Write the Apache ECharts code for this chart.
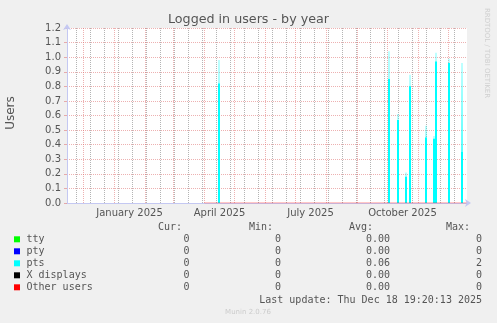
<!DOCTYPE html>
<html><head><meta charset="utf-8">
<script src="https://cdn.jsdelivr.net/npm/echarts@6/dist/echarts.min.js"></script>
<style>html,body{margin:0;padding:0;background:#f0f0f0;}#c{width:497px;height:323px;}</style>
</head><body><div id="c"></div>
<script>
// ---- data ----
const chartTitle = 'Logged in users - by year';
const yAxisName = 'Users';
const yTickValues = [0, 0.1, 0.2, 0.3, 0.4, 0.5, 0.6, 0.7, 0.8, 0.9, 1.0, 1.1, 1.2];
const seriesNames = ['tty', 'pty', 'pts', 'X displays', 'Other users'];
const seriesColors = ['#00ff00', '#0000ff', '#00ffff', '#000000', '#ff0000'];
const curVals = ['0', '0', '0', '0', '0'];
const minVals = ['0', '0', '0', '0', '0'];
const avgVals = ['0.00', '0.00', '0.06', '0.00', '0.00'];
const maxVals = ['0', '0', '2', '0', '0'];
const statHeaders = ['Cur:', 'Min:', 'Avg:', 'Max:'];
const lastUpdate = 'Last update: Thu Dec 18 19:20:13 2025';
const muninVersion = 'Munin 2.0.76';
const rrdCredit = 'RRDTOOL / TOBI OETIKER';

// pts (daily) spikes: peak (faded top) and solid level
const ptsDates = ['2025-04-15', '2025-10-02', '2025-10-11', '2025-10-19', '2025-10-23', '2025-11-08', '2025-11-16', '2025-11-18', '2025-12-01', '2025-12-14'];
const ptsPeak  = [0.98, 1.04, 0.61, 0.21, 0.88, 0.53, 0.46, 1.03, 0.99, 0.96];
const ptsLevel = [0.82, 0.85, 0.57, 0.18, 0.80, 0.45, 0.44, 0.97, 0.96, 0.35];

// "Other users" (and the other zero series) known from April 2025
const zeroDates = ['2025-04-01', '2025-12-19'];
const zeroVals = [0, 0];

const xLabelDates = ['2025-01-16', '2025-04-16', '2025-07-16', '2025-10-16'];
const xLabels = ['January 2025', 'April 2025', 'July 2025', 'October 2025'];

const axisStart = '2024-11-14T12:00:00Z';
const axisEnd = '2025-12-19T12:00:00Z';
const firstBiweekly = '2024-11-24';

// ---- helpers ----
const ts = s => Date.parse(s.length === 10 ? s + 'T00:00:00Z' : s);
const noon = s => ts(s) + 43200000;
const tMin = ts(axisStart), tMax = ts(axisEnd);
const DAY = 86400000;

const monthLines = [];
for (let y = 2024, m = 11; ; ) {
  const t = Date.UTC(y, m, 1);
  if (t > tMax) break;
  if (t >= tMin) monthLines.push(t);
  m++; if (m > 11) { m = 0; y++; }
}
const weekLines = [];
for (let t = ts(firstBiweekly); t <= tMax; t += 14 * DAY) weekLines.push(t);

const labelMap = {};
xLabelDates.forEach((d, i) => { labelMap[ts(d)] = xLabels[i]; });

const textCol = '#555555';
const mono = '10px "DejaVu Sans Mono"';
const graphics = [];
graphics.push({ type: 'text', x: 248.5, y: 19.5, style: { text: chartTitle, font: '12.7px "DejaVu Sans"', fill: textCol, align: 'center', verticalAlign: 'middle' } });
graphics.push({ type: 'text', x: 11, y: 113, rotation: Math.PI / 2, style: { text: yAxisName, font: '12px "DejaVu Sans"', fill: textCol, align: 'center', verticalAlign: 'middle' } });
graphics.push({ type: 'text', x: 487, y: 53, rotation: -Math.PI / 2, style: { text: rrdCredit, font: '7px "DejaVu Sans"', fill: '#cfcfcf', align: 'center', verticalAlign: 'middle' } });
const headerRight = [182, 273, 373, 470];
statHeaders.forEach((h, i) => graphics.push({ type: 'text', x: headerRight[i], y: 227, style: { text: h, font: mono, fill: textCol, align: 'right', verticalAlign: 'middle' } }));
const colRight = [189.5, 281, 390, 482];
seriesNames.forEach((name, i) => {
  const y = 239.3 + i * 12;
  graphics.push({ type: 'rect', shape: { x: 14, y: y - 3, width: 6, height: 6 }, style: { fill: seriesColors[i] } });
  graphics.push({ type: 'text', x: 26.5, y: y, style: { text: name, font: mono, fill: textCol, align: 'left', verticalAlign: 'middle' } });
  [curVals[i], minVals[i], avgVals[i], maxVals[i]].forEach((v, j) => graphics.push({ type: 'text', x: colRight[j], y: y, style: { text: v, font: mono, fill: textCol, align: 'right', verticalAlign: 'middle' } }));
});
graphics.push({ type: 'text', x: 482, y: 300, style: { text: lastUpdate, font: mono, fill: textCol, align: 'right', verticalAlign: 'middle' } });
graphics.push({ type: 'text', x: 248, y: 312.5, style: { text: muninVersion, font: '7px "DejaVu Sans"', fill: '#cccccc', align: 'center', verticalAlign: 'middle' } });

const majorCol = 'rgba(220,100,100,0.5)';
const minorCol = '#b4b4b4';
const axisCol = '#c4c8f2';

const chart = echarts.init(document.getElementById('c'), null, { renderer: 'canvas' });
chart.setOption({
  animation: false,
  backgroundColor: '#f0f0f0',
  grid: { left: 67, right: 30, top: 28, bottom: 120, show: true, backgroundColor: '#ffffff', borderWidth: 0, z: 0 },
  xAxis: {
    type: 'value', min: tMin, max: tMax, scale: true,
    axisLine: { show: true, lineStyle: { color: axisCol, width: 1 }, symbol: ['none', 'arrow'], symbolSize: [6, 6], symbolOffset: [0, 4] },
    axisTick: { show: false },
    splitLine: { show: false },
    axisLabel: {
      customValues: xLabelDates.map(ts),
      interval: 0,
      formatter: v => labelMap[v] || '',
      color: textCol, fontFamily: 'DejaVu Sans', fontSize: 10, margin: 5, hideOverlap: false
    }
  },
  yAxis: {
    type: 'value', min: 0, max: 1.2, interval: 0.1,
    axisLine: { show: true, lineStyle: { color: axisCol, width: 1 }, symbol: ['none', 'arrow'], symbolSize: [6, 6], symbolOffset: [0, 4] },
    axisTick: { show: true, length: 3, lineStyle: { color: majorCol } },
    splitLine: { show: true, lineStyle: { color: majorCol, type: [1, 1], width: 1 } },
    axisLabel: { formatter: v => { const t = yTickValues.find(t => Math.abs(t - v) < 1e-6); return t === undefined ? '' : t.toFixed(1); }, color: textCol, fontFamily: 'DejaVu Sans', fontSize: 10, margin: 6 }
  },
  graphic: graphics,
  series: [
    {
      name: 'minor grid', type: 'line', data: [], z: 1,
      markLine: {
        z: 1, silent: true, symbol: ['none', 'none'], label: { show: false }, animation: false,
        lineStyle: { color: minorCol, type: [1, 1], width: 1, opacity: 1 },
        data: weekLines.map(t => ({ xAxis: t }))
      }
    },
    {
      name: 'major grid', type: 'line', data: [], z: 1,
      markLine: {
        z: 1, silent: true, symbol: ['none', 'none'], label: { show: false }, animation: false,
        lineStyle: { color: majorCol, type: [1, 1], width: 1 },
        data: monthLines.map(t => ({ xAxis: t }))
      }
    },
    {
      name: 'pts peak', type: 'bar', barWidth: 2, barGap: '-100%', z: 6,
      itemStyle: { color: new echarts.graphic.LinearGradient(0, 0, 0, 1, [{ offset: 0, color: 'rgba(0,255,255,0.25)' }, { offset: 1, color: 'rgba(0,255,255,0.9)' }]) },
      data: ptsDates.map((d, i) => [noon(d), ptsPeak[i]])
    },
    {
      name: 'pts', type: 'bar', barWidth: 2, barGap: '-100%', z: 7,
      itemStyle: { color: seriesColors[2] },
      data: ptsDates.map((d, i) => [noon(d), ptsLevel[i]])
    },
    {
      name: 'Other users', type: 'line', showSymbol: false, z: 8,
      lineStyle: { color: seriesColors[4], width: 1, opacity: 0.45 },
      data: zeroDates.map((d, i) => [ts(d), zeroVals[i]])
    }
  ]
});
</script></body></html>
